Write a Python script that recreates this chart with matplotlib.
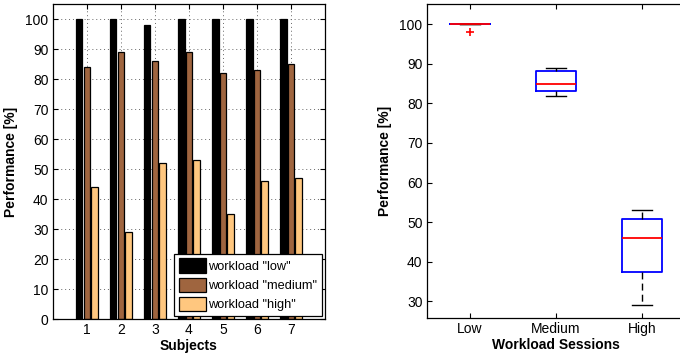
import numpy as np
import matplotlib
matplotlib.use("Agg")
import matplotlib.pyplot as plt

plt.rcParams["font.family"] = ["Liberation Sans", "DejaVu Sans"]

# Per-subject performance for the three workload sessions
subjects = [1, 2, 3, 4, 5, 6, 7]
perf_low = [100, 100, 98, 100, 100, 100, 100]
perf_medium = [84, 89, 86, 89, 82, 83, 85]
perf_high = [44, 29, 52, 53, 35, 46, 47]
series_labels = ['workload "low"', 'workload "medium"', 'workload "high"']
session_labels = ["Low", "Medium", "High"]

# copper colormap, 3 levels
colors = ["#000000", "#9F653F", "#FFC77F"]

fig = plt.figure(figsize=(6.8, 3.57), dpi=100)

# ---- grouped bars ----
ax1 = fig.add_axes([0.0775, 0.1064, 0.4004, 0.8815])
x = np.array(subjects, dtype=float)
offset = 0.222
width = 0.19
series = [perf_low, perf_medium, perf_high]
for i, (vals, lab, col) in enumerate(zip(series, series_labels, colors)):
    ax1.bar(x + (i - 1) * offset, vals, width=width, color=col,
            edgecolor="black", linewidth=0.9, label=lab, zorder=2)
ax1.set_xlim(0, 8)
ax1.set_ylim(0, 105)
ax1.set_xticks(subjects)
ax1.set_yticks(np.arange(0, 101, 10))
ax1.set_axisbelow(True)
ax1.grid(True, linestyle=(0, (1, 3)), color="#666666", linewidth=0.7)
ax1.set_xlabel("Subjects", fontsize=10, fontweight="bold", labelpad=1)
ax1.set_ylabel("Performance [%]", fontsize=10, fontweight="bold", labelpad=5)
leg = ax1.legend(loc="lower right", fontsize=9.2, frameon=True, fancybox=False,
                 edgecolor="black", framealpha=1, handlelength=2.1,
                 handleheight=1.35, handletextpad=0.2, borderpad=0.35,
                 labelspacing=0.38, borderaxespad=0.25)
leg.get_frame().set_linewidth(0.9)

# ---- box plot per session ----
ax2 = fig.add_axes([0.6275, 0.1092, 0.380, 0.8787])
stats = []
for vals, lab in zip(series, session_labels):
    d = np.asarray(vals, dtype=float)
    q1, q3 = np.percentile(d, [25, 75], method="hazen")
    iqr = q3 - q1
    lo_lim, hi_lim = q1 - 1.5 * iqr, q3 + 1.5 * iqr
    inside = d[(d >= lo_lim) & (d <= hi_lim)]
    stats.append(dict(med=np.median(d), q1=q1, q3=q3,
                      whislo=inside.min(), whishi=inside.max(),
                      fliers=d[(d < lo_lim) | (d > hi_lim)], label=lab))
ax2.bxp(stats, positions=[1, 2, 3], widths=0.46,
        boxprops=dict(color="blue", linewidth=1.3),
        whiskerprops=dict(color="black", linestyle=(0, (5, 3)), linewidth=1.0),
        capprops=dict(color="black", linewidth=1.0),
        medianprops=dict(color="red", linewidth=1.3),
        flierprops=dict(marker="+", markeredgecolor="red", markersize=6,
                        markeredgewidth=1.2))
ax2.set_xlim(0.5, 3.5)
ax2.set_ylim(25.7, 105.1)
ax2.set_yticks(np.arange(30, 101, 10))
ax2.set_xlabel("Workload Sessions", fontsize=10, fontweight="bold", labelpad=1)
ax2.set_ylabel("Performance [%]", fontsize=10, fontweight="bold", labelpad=5)

for ax in (ax1, ax2):
    ax.tick_params(direction="in", length=3.5, width=0.8, labelsize=10,
                   top=True, right=True, pad=3, colors="black")
    for s in ax.spines.values():
        s.set_linewidth(0.9)

fig.savefig("out.png", dpi=100)
